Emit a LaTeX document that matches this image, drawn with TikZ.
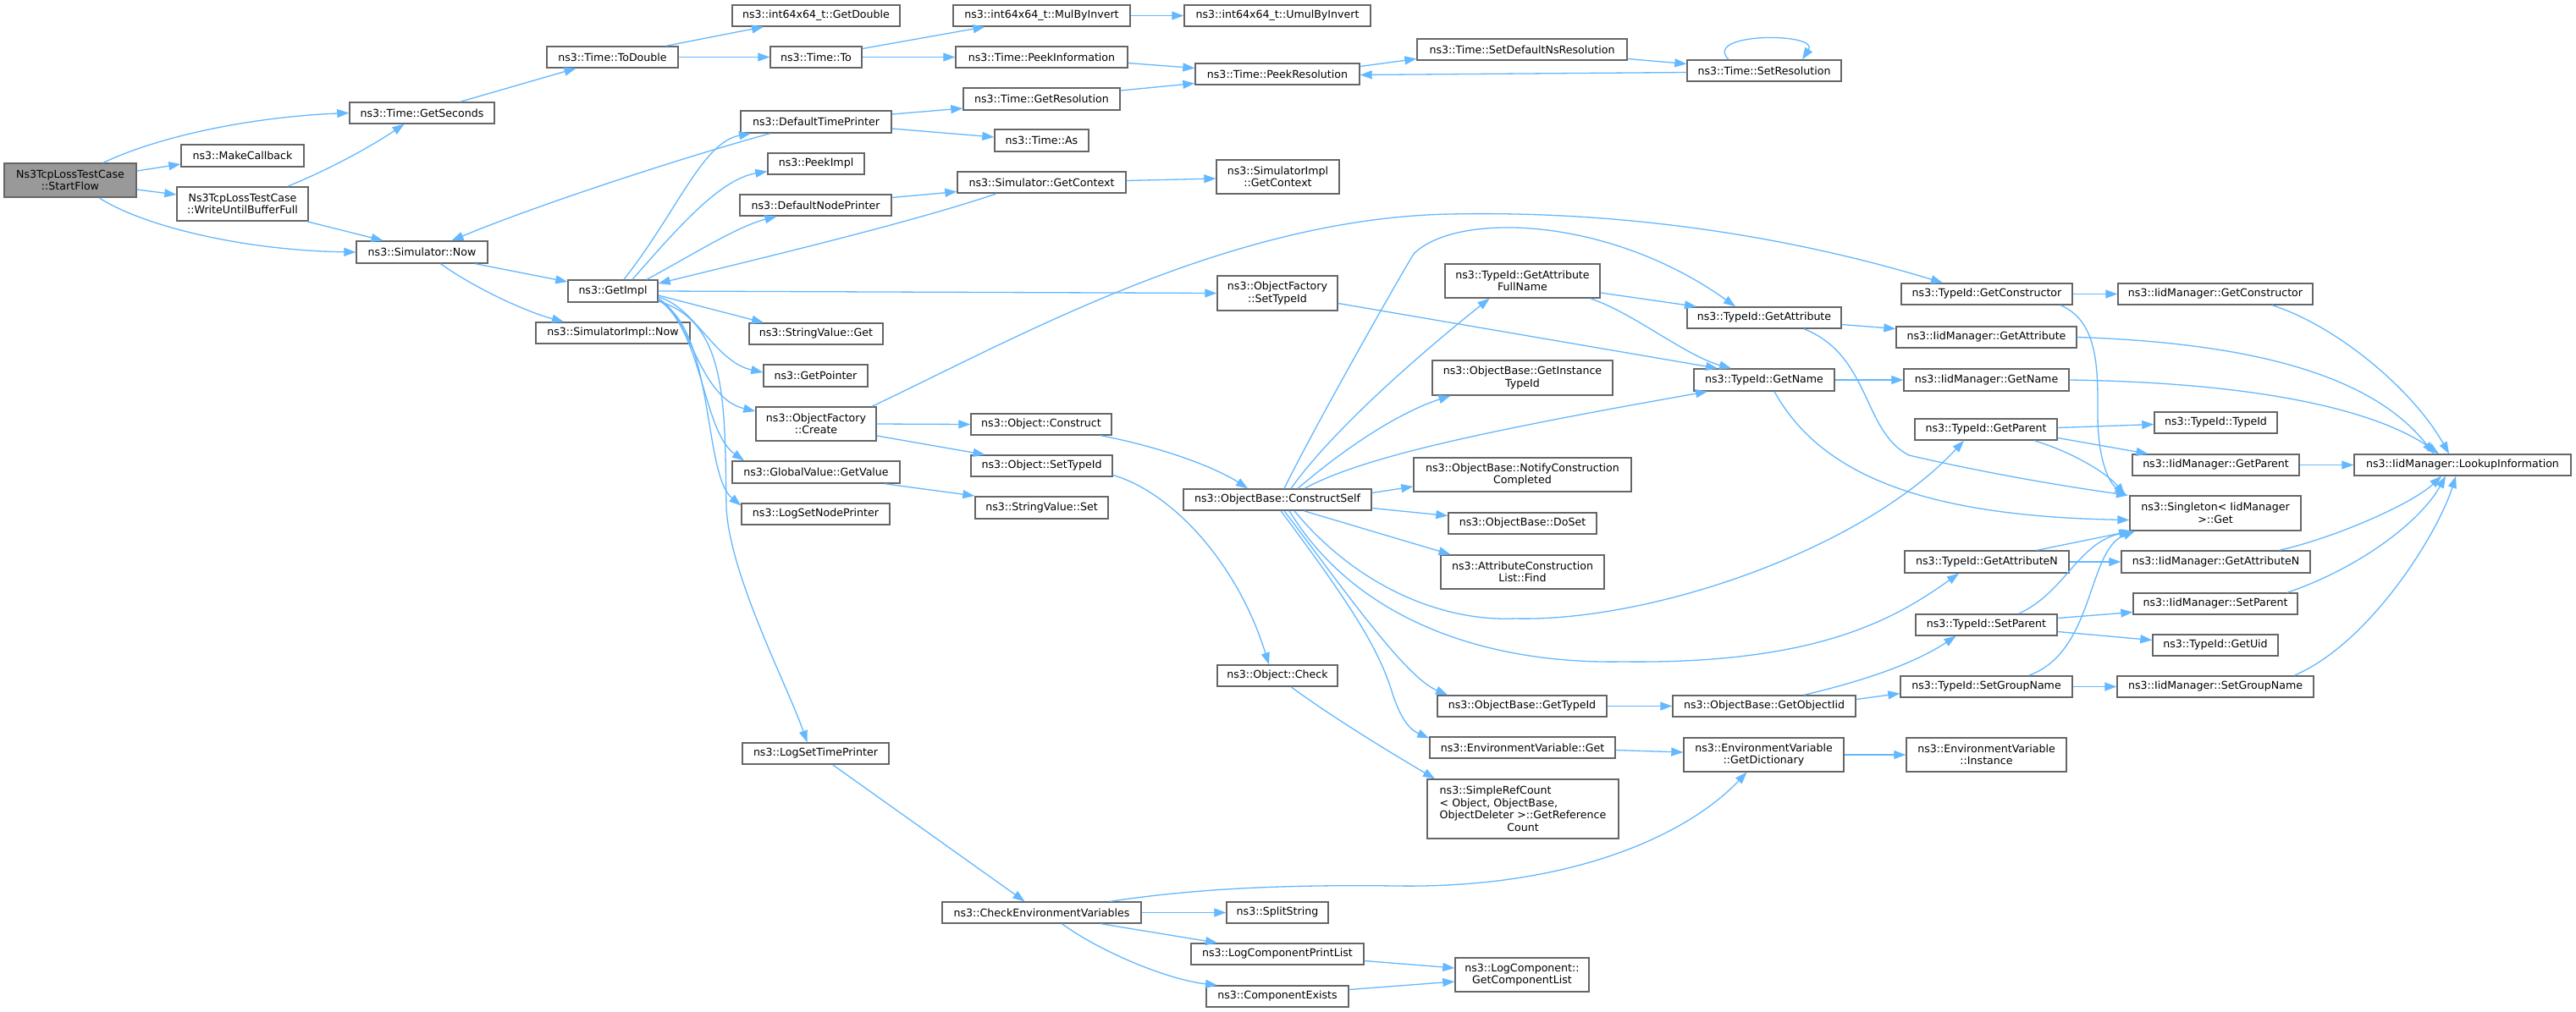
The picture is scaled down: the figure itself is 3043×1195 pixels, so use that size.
\documentclass[tikz,border=0pt]{standalone}
\usepackage{fontspec}
\usetikzlibrary{arrows.meta}
\newfontfamily\dvs{DejaVu Sans}
\definecolor{edgeblue}{HTML}{63B8FF}
\definecolor{greyforty}{HTML}{666666}
\definecolor{greysixty}{HTML}{999999}
\newlength{\srcw}
\newcommand{\mkbox}[6]{\node[nd,minimum width=#4pt,minimum height=#5pt] (#1) at (#2,#3) {#6};}
\tikzset{
  nd/.style={draw=greyforty, line width=1.4pt, fill=white, inner sep=0pt, align=center,
    font={\dvs\fontsize{12.6}{14.5}\selectfont}},
  rootnd/.style={nd, fill=greysixty},
  ed/.style={draw=edgeblue, line width=1.3pt, -{Triangle[length=14pt,width=10pt]}},
}
\begin{document}
\begin{tikzpicture}[x=1pt,y=-1pt]
\useasboundingbox (0,0) rectangle (3043,1195);
\fill[white] (0,0) rectangle (3043,1195);
% nodes
\node[rootnd,minimum width=156pt,minimum height=40pt] (sf) at (83,213) {Ns3TcpLossTestCase\\::StartFlow};
\mkbox{mc}{286.5}{184}{145}{26}{ns3::MakeCallback}
\mkbox{wb}{286.5}{241}{155}{40}{Ns3TcpLossTestCase\\::WriteUntilBufferFull}
\mkbox{gs}{498.5}{133.5}{171}{25}{ns3::Time::GetSeconds}
\mkbox{sn}{498.5}{298}{155}{26}{ns3::Simulator::Now}
\mkbox{td}{723.5}{67.5}{155}{25}{ns3::Time::ToDouble}
\mkbox{gi}{724}{344}{106}{26}{ns3::GetImpl}
\mkbox{sin}{724}{393.5}{182}{25}{ns3::SimulatorImpl::Now}
\mkbox{gd}{964}{18.5}{198}{25}{ns3::int64x64\_t::GetDouble}
\mkbox{tto}{964}{67.5}{108}{25}{ns3::Time::To}
\mkbox{dtp}{964}{144}{178}{26}{ns3::DefaultTimePrinter}
\mkbox{peek}{964}{193.5}{114}{25}{ns3::PeekImpl}
\mkbox{dnp}{963.5}{242.5}{179}{25}{ns3::DefaultNodePrinter}
\mkbox{svg}{964}{394.5}{158}{25}{ns3::StringValue::Get}
\mkbox{gp}{963.5}{444}{123}{26}{ns3::GetPointer}
\mkbox{ofc}{964}{501}{142}{40}{ns3::ObjectFactory\\::Create}
\mkbox{gv}{964}{558}{198}{26}{ns3::GlobalValue::GetValue}
\mkbox{lsn}{963.5}{607.5}{175}{25}{ns3::LogSetNodePrinter}
\mkbox{lst}{963.5}{890.5}{173}{25}{ns3::LogSetTimePrinter}
\mkbox{mbi}{1230.5}{18.5}{209}{25}{ns3::int64x64\_t::MulByInvert}
\mkbox{pinf}{1230.5}{67.5}{203}{25}{ns3::Time::PeekInformation}
\mkbox{gr}{1230.5}{117}{185}{26}{ns3::Time::GetResolution}
\mkbox{tas}{1230.5}{166}{111}{26}{ns3::Time::As}
\mkbox{sgc}{1230.5}{215.5}{199}{25}{ns3::Simulator::GetContext}
\mkbox{oc}{1230}{501.5}{166}{25}{ns3::Object::Construct}
\mkbox{ost}{1230.5}{550.5}{167}{25}{ns3::Object::SetTypeId}
\mkbox{ssv}{1230.5}{600}{157}{26}{ns3::StringValue::Set}
\mkbox{cev}{1230.5}{1078.5}{235}{25}{ns3::CheckEnvironmentVariables}
\mkbox{umi}{1509}{18.5}{220}{25}{ns3::int64x64\_t::UmulByInvert}
\mkbox{pr}{1509}{87.5}{194}{25}{ns3::Time::PeekResolution}
\mkbox{sigc}{1509.5}{209}{145}{40}{ns3::SimulatorImpl\\::GetContext}
\mkbox{ofs}{1509}{346.5}{142}{41}{ns3::ObjectFactory\\::SetTypeId}
\mkbox{cs}{1509}{590.5}{222}{25}{ns3::ObjectBase::ConstructSelf}
\mkbox{chk}{1509}{798.5}{142}{25}{ns3::Object::Check}
\mkbox{ss}{1509}{1078.5}{120}{25}{ns3::SplitString}
\mkbox{lcp}{1509}{1127.5}{204}{25}{ns3::LogComponentPrintList}
\mkbox{ce}{1509}{1177.5}{168}{25}{ns3::ComponentExists}
\mkbox{sdr}{1798}{58.5}{248}{25}{ns3::Time::SetDefaultNsResolution}
\mkbox{gafn}{1798.5}{332}{183}{40}{ns3::TypeId::GetAttribute\\FullName}
\mkbox{gitid}{1798.5}{446.5}{213}{41}{ns3::ObjectBase::GetInstance\\TypeId}
\mkbox{ncc}{1798.5}{561}{257}{40}{ns3::ObjectBase::NotifyConstruction\\Completed}
\mkbox{ds}{1798.5}{618.5}{175}{25}{ns3::ObjectBase::DoSet}
\mkbox{acl}{1798.5}{676}{193}{40}{ns3::AttributeConstruction\\List::Find}
\mkbox{obgt}{1798}{834.5}{200}{25}{ns3::ObjectBase::GetTypeId}
\mkbox{evg}{1798.5}{883.5}{219}{25}{ns3::EnvironmentVariable::Get}
\mkbox{src}{1799}{956}{226}{70}{\settowidth{\srcw}{ObjectDeleter >::GetReference}\global\srcw=\srcw\makebox[\srcw][l]{ns3::SimpleRefCount}\\\makebox[\srcw][l]{< Object, ObjectBase,}\\ObjectDeleter >::GetReference\\Count}
\mkbox{lgcl}{1798}{1152}{158}{40}{ns3::LogComponent::\\GetComponentList}
\mkbox{sr}{2084}{83.5}{182}{25}{ns3::Time::SetResolution}
\mkbox{ga}{2084}{375.5}{182}{25}{ns3::TypeId::GetAttribute}
\mkbox{gn}{2084}{449}{166}{26}{ns3::TypeId::GetName}
\mkbox{goi}{2084}{834.5}{216}{25}{ns3::ObjectBase::GetObjectIid}
\mkbox{gdict}{2083.5}{892}{189}{40}{ns3::EnvironmentVariable\\::GetDictionary}
\mkbox{gc}{2347}{347.5}{202}{25}{ns3::TypeId::GetConstructor}
\mkbox{iga}{2346.5}{398.5}{213}{25}{ns3::IidManager::GetAttribute}
\mkbox{ign}{2346.5}{449}{195}{26}{ns3::IidManager::GetName}
\mkbox{gpar}{2346}{507.5}{168}{25}{ns3::TypeId::GetParent}
\mkbox{gan}{2347}{664}{194}{26}{ns3::TypeId::GetAttributeN}
\mkbox{sp}{2346.5}{738.5}{167}{25}{ns3::TypeId::SetParent}
\mkbox{sgn}{2346.5}{811.5}{203}{25}{ns3::TypeId::SetGroupName}
\mkbox{evi}{2346.5}{892}{189}{40}{ns3::EnvironmentVariable\\::Instance}
\mkbox{igc}{2617}{347.5}{230}{25}{ns3::IidManager::GetConstructor}
\mkbox{tid}{2617.5}{499.5}{145}{25}{ns3::TypeId::TypeId}
\mkbox{igp}{2617.5}{549.5}{197}{25}{ns3::IidManager::GetParent}
\mkbox{sg}{2617}{606.5}{202}{41}{ns3::Singleton< IidManager\\ >::Get}
\mkbox{igan}{2617.5}{664}{223}{26}{ns3::IidManager::GetAttributeN}
\mkbox{isp}{2617}{713.5}{194}{25}{ns3::IidManager::SetParent}
\mkbox{guid}{2617}{762.5}{148}{25}{ns3::TypeId::GetUid}
\mkbox{isgn}{2617}{811.5}{232}{25}{ns3::IidManager::SetGroupName}
\mkbox{lk}{2909}{549.5}{256}{25}{ns3::IidManager::LookupInformation}
% edges: StartFlow
\draw[ed] ([xshift=39]sf.north) .. controls (190,160) and (300,138) .. (gs.west);
\draw[ed] ([yshift=11]sf.east) -- ([yshift=-10]mc.west);
\draw[ed] ([yshift=-11]sf.east) -- ([yshift=11]wb.west);
\draw[ed] ([xshift=34]sf.south) .. controls (170,268) and (290,296) .. (sn.west);
\draw[ed] ([xshift=53]wb.north) .. controls (390,200) and (440,172) .. ([xshift=-21]gs.south);
\draw[ed] ([xshift=76]wb.south) -- ([xshift=-46]sn.north);
% time chain
\draw[ed] ([xshift=45]gs.north) -- ([xshift=-43]td.south);
\draw[ed] ([xshift=63]td.north) -- ([xshift=-62]gd.south);
\draw[ed] (td.east) -- (tto.west);
\draw[ed] ([yshift=10]tto.east) -- ([xshift=-67]mbi.south);
\draw[ed] (tto.east) -- (pinf.west);
\draw[ed] (mbi.east) -- (umi.west);
\draw[ed] ([yshift=-7]pinf.east) -- ([yshift=7]pr.west);
\draw[ed] ([yshift=10]gr.east) -- ([yshift=-11]pr.west);
\draw[ed] ([yshift=9]pr.east) -- ([yshift=-11]sdr.west);
\draw[ed] ([yshift=-11]sdr.east) -- ([yshift=8]sr.west);
\draw[ed] ([yshift=-2]sr.west) -- ([yshift=-1]pr.east);
\draw[ed] ([xshift=-42]sr.north) .. controls (2010,38) and (2150,38) .. ([xshift=45]sr.north);
% simulator
\draw[ed] ([xshift=63]sn.south) -- ([yshift=11]gi.west);
\draw[ed] ([xshift=22]sn.south) .. controls (560,340) and (620,368) .. ([xshift=-58]sin.north);
\draw[ed] ([xshift=13]gi.north) .. controls (800,250) and (830,168) .. ([xshift=-77]dtp.south);
\draw[ed] ([xshift=-54]dtp.south) .. controls (820,182) and (640,240) .. ([xshift=35]sn.north);
\draw[ed] ([xshift=23]gi.north) .. controls (800,270) and (850,212) .. ([yshift=-9]peek.west);
\draw[ed] ([xshift=40]gi.north) .. controls (820,300) and (870,268) .. ([xshift=-46]dnp.south);
\draw[ed] ([xshift=-53]sgc.south) .. controls (1080,262) and (900,305) .. ([yshift=9]gi.east);
\draw[ed] ([yshift=9]dnp.east) -- ([yshift=-11]sgc.west);
\draw[ed] ([yshift=2]sgc.east) -- ([yshift=-2]sigc.west);
\draw[ed] ([yshift=9]dtp.east) -- ([yshift=-11]gr.west);
\draw[ed] ([yshift=-8]dtp.east) -- ([yshift=4]tas.west);
\draw[ed] (gi.east) -- (ofs.west);
\draw[ed] ([yshift=-5]gi.east) -- ([xshift=-62]svg.north);
\draw[ed] ([yshift=-7]gi.east) .. controls (820,362) and (845,428) .. ([yshift=4]gp.west);
\draw[ed] ([yshift=-9]gi.east) .. controls (815,372) and (825,470) .. ([yshift=15]ofc.west);
\draw[ed] ([yshift=-10]gi.east) .. controls (830,390) and (830,510) .. ([xshift=-85]gv.north);
\draw[ed] ([yshift=-11]gi.east) .. controls (845,390) and (830,560) .. ([yshift=10]lsn.west);
\draw[ed] ([yshift=-12]gi.east) .. controls (860,380) and (856,480) .. (858,600) .. controls (862,680) and (930,810) .. ([xshift=-10]lst.north);
% object factory
\draw[ed] (ofc.east) -- (oc.west);
\draw[ed] ([yshift=-14]ofc.east) -- ([xshift=-67]ost.north);
\draw[ed] ([xshift=66]ofc.north) .. controls (1200,400) and (1450,258) .. (1713,253) .. controls (1950,248) and (2150,290) .. ([xshift=-52]gc.north);
\draw[ed] ([yshift=-12]ofs.east) -- ([xshift=-55]gn.north);
\draw[ed] ([xshift=81]gv.south) -- ([yshift=14]ssv.west);
\draw[ed] ([xshift=70]oc.south) .. controls (1380,530) and (1440,555) .. ([xshift=-35]cs.north);
\draw[ed] ([yshift=-11]ost.east) .. controls (1380,580) and (1460,660) .. ([xshift=-10]chk.north);
\draw[ed] ([xshift=16]chk.south) .. controls (1570,845) and (1640,888) .. ([xshift=-104]src.north);
% log
\draw[ed] ([xshift=20]lst.south) -- ([xshift=-20]cev.north);
\draw[ed] (cev.east) -- (ss.west);
\draw[ed] ([xshift=70]cev.south) -- ([xshift=-71]lcp.north);
\draw[ed] ([xshift=24]cev.south) .. controls (1300,1125) and (1380,1158) .. ([xshift=-71]ce.north);
\draw[ed] ([xshift=81]cev.north) .. controls (1400,1052) and (1500,1045) .. (1650,1047) .. controls (1850,1050) and (1990,990) .. ([xshift=-20]gdict.south);
\draw[ed] ([yshift=-8]lcp.east) -- ([yshift=8]lgcl.west);
\draw[ed] ([yshift=8]ce.east) -- ([yshift=-8]lgcl.west);
% construct self
\draw[ed] ([xshift=8]cs.north) .. controls (1550,510) and (1640,350) .. (1670,300) .. controls (1720,250) and (1900,255) .. ([xshift=-34]ga.north);
\draw[ed] ([xshift=16]cs.north) .. controls (1580,500) and (1700,400) .. ([xshift=-39]gafn.south);
\draw[ed] ([xshift=24]cs.north) .. controls (1600,520) and (1660,485) .. ([xshift=-85]gitid.south);
\draw[ed] ([xshift=32]cs.north) .. controls (1610,540) and (1750,510) .. ([xshift=-67]gn.south);
\draw[ed] ([yshift=8]cs.east) -- ([yshift=-14]ncc.west);
\draw[ed] ([yshift=-10]cs.east) -- ([yshift=9]ds.west);
\draw[ed] ([xshift=31]cs.south) -- ([xshift=-85]acl.north);
\draw[ed] ([xshift=20]cs.south) .. controls (1600,690) and (1700,735) .. (1790,731) .. controls (1950,735) and (2200,650) .. ([xshift=-26]gpar.south);
\draw[ed] ([xshift=14]cs.south) .. controls (1600,730) and (1750,785) .. (1917,782) .. controls (2150,785) and (2240,730) .. ([xshift=-33]gan.south);
\draw[ed] ([xshift=8]cs.south) .. controls (1590,700) and (1660,800) .. ([xshift=-88]obgt.north);
\draw[ed] ([xshift=4]cs.south) .. controls (1600,720) and (1630,770) .. (1645,820) .. controls (1655,850) and (1665,862) .. ([yshift=11]evg.west);
% typeid
\draw[ed] ([yshift=-14]gafn.east) -- ([xshift=-80]ga.north);
\draw[ed] ([xshift=80]gafn.south) .. controls (1930,370) and (1990,420) .. ([xshift=-39]gn.north);
\draw[ed] ([yshift=-8]ga.east) -- ([yshift=10]iga.west);
\draw[ed] ([xshift=47]ga.south) .. controls (2210,420) and (2200,510) .. (2255,538) .. controls (2350,560) and (2440,575) .. ([xshift=-103]sg.north);
\draw[ed] (gn.east) -- (ign.west);
\draw[ed] ([xshift=12]gn.south) .. controls (2150,560) and (2270,610) .. ([yshift=-8]sg.west);
\draw[ed] (gc.east) -- (igc.west);
\draw[ed] ([xshift=87]gc.south) .. controls (2480,380) and (2478,440) .. (2478,490) .. controls (2478,540) and (2490,570) .. ([xshift=-105]sg.north);
\draw[ed] ([xshift=67]igc.south) .. controls (2760,385) and (2850,460) .. ([xshift=-16]lk.north);
\draw[ed] (iga.east) .. controls (2650,405) and (2800,440) .. ([xshift=-34]lk.north);
\draw[ed] (ign.east) .. controls (2650,452) and (2800,480) .. ([xshift=-28]lk.north);
\draw[ed] ([yshift=2]gpar.east) -- ([yshift=-2]tid.west);
\draw[ed] ([yshift=-10]gpar.east) -- ([xshift=-80]igp.north);
\draw[ed] ([xshift=57]gpar.south) .. controls (2450,535) and (2490,560) .. ([xshift=-107]sg.north);
\draw[ed] (igp.east) -- (lk.west);
\draw[ed] ([xshift=59]gan.north) -- ([xshift=-100]sg.south);
\draw[ed] (gan.east) -- (igan.west);
\draw[ed] ([xshift=75]igan.north) .. controls (2760,635) and (2850,595) .. ([xshift=-25]lk.south);
\draw[ed] ([xshift=38]sp.north) .. controls (2440,700) and (2455,640) .. ([xshift=-97]sg.south);
\draw[ed] ([yshift=8]sp.east) -- ([yshift=-10]isp.west);
\draw[ed] ([yshift=-8]sp.east) -- ([yshift=6]guid.west);
\draw[ed] ([xshift=85]isp.north) .. controls (2790,670) and (2860,615) .. ([xshift=-20]lk.south);
\draw[ed] ([xshift=50]sgn.north) .. controls (2475,770) and (2465,650) .. ([xshift=-95]sg.south);
\draw[ed] (sgn.east) -- (isgn.west);
\draw[ed] ([xshift=93]isgn.north) .. controls (2800,760) and (2880,630) .. ([xshift=-8]lk.south);
% object base
\draw[ed] (obgt.east) -- (goi.west);
\draw[ed] ([xshift=47]goi.north) .. controls (2200,805) and (2260,785) .. ([xshift=-36]sp.south);
\draw[ed] ([yshift=8]goi.east) -- ([yshift=-8]sgn.west);
\draw[ed] ([yshift=-3]evg.east) -- ([yshift=3]gdict.west);
\draw[ed] (gdict.east) -- (evi.west);
\end{tikzpicture}
\end{document}
